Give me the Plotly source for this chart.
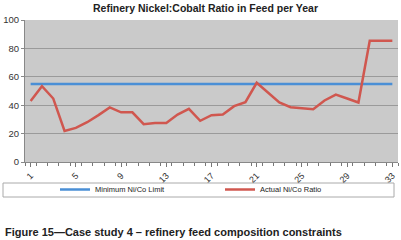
import plotly.graph_objects as go

years = list(range(1, 34))
min_limit = [55] * 33
actual = [43, 53.4, 44.7, 21.9, 24, 28, 33, 38.4, 35, 35, 26.6, 27.5, 27.5, 33.4, 37.4,
          29, 33, 33.4, 39.3, 42.1, 55.8, 48.7, 41.9, 38.6, 37.9, 37.2, 43.3, 47.5, 44.7,
          41.9, 85.4, 85.4, 85.4]
tick_years = [1, 5, 9, 13, 17, 21, 25, 29, 33]
y_ticks = [0, 20, 40, 60, 80, 100]

fig = go.Figure()
fig.add_trace(go.Scatter(x=years, y=min_limit, mode="lines", name="Minimum Ni/Co Limit",
                         line=dict(color="#4a8fd6", width=2.5), legend="legend"))
fig.add_trace(go.Scatter(x=years, y=actual, mode="lines", name="Actual Ni/Co Ratio",
                         line=dict(color="#d0574f", width=2.5), legend="legend2"))

L, R, T, B = 25, 3, 20, 78
pw = 401 - L - R
ph = 240 - T - B

def px_x(p):
    return (p - L) / pw

def px_y(p):
    return (240 - B - p) / ph

leg_common = dict(orientation="h", yanchor="top", xanchor="left",
                  font=dict(size=7.5, color="#222222"), bgcolor="rgba(0,0,0,0)",
                  itemwidth=30, tracegroupgap=0)

fig.update_layout(
    width=401, height=240,
    margin=dict(l=L, r=R, t=T, b=B, autoexpand=False),
    paper_bgcolor="white", plot_bgcolor="#cacaca",
    font=dict(family="Liberation Sans, Arial", size=9, color="#333333"),
    showlegend=True,
    legend=dict(x=px_x(55), y=px_y(175), **leg_common),
    legend2=dict(x=px_x(220), y=px_y(175), **leg_common),
    xaxis=dict(range=[0.5, 33.5], tickvals=tick_years, ticktext=[str(v) for v in tick_years],
               tickangle=-45, ticks="outside", ticklen=4, tickcolor="#777777",
               showgrid=False, zeroline=False, showline=True, linecolor="#888888",
               minor=dict(dtick=1, tick0=0.5, ticks="outside", ticklen=3, tickcolor="#777777", showgrid=False),
               tickfont=dict(size=9, color="#333333")),
    yaxis=dict(range=[0, 100], tickvals=y_ticks, showgrid=True, gridcolor="#9a9a9a", gridwidth=1,
               zeroline=False, showline=True, linecolor="#888888", ticks="outside", ticklen=3,
               tickcolor="#888888", tickfont=dict(size=9.5, color="#333333")),
    shapes=[dict(type="rect", xref="paper", yref="paper", x0=px_x(3), x1=px_x(394),
                 y0=px_y(183), y1=px_y(197), line=dict(color="#aaaaaa", width=1))],
    annotations=[
        dict(text="<b>Refinery Nickel:Cobalt Ratio in Feed per Year</b>", xref="paper", yref="paper",
             x=px_x(205), y=px_y(8), xanchor="center", yanchor="middle", showarrow=False,
             font=dict(size=10.5, color="#222222")),
        dict(text="<b>Figure 15\u2014Case study 4 \u2013 refinery feed composition constraints</b>",
             xref="paper", yref="paper", x=px_x(3), y=px_y(232), xanchor="left", yanchor="middle",
             showarrow=False, font=dict(size=11, color="#222222")),
    ],
)

fig.write_html("out.html", config={"displayModeBar": False},
               post_script="document.body.style.margin='0';document.body.style.padding='0';")
